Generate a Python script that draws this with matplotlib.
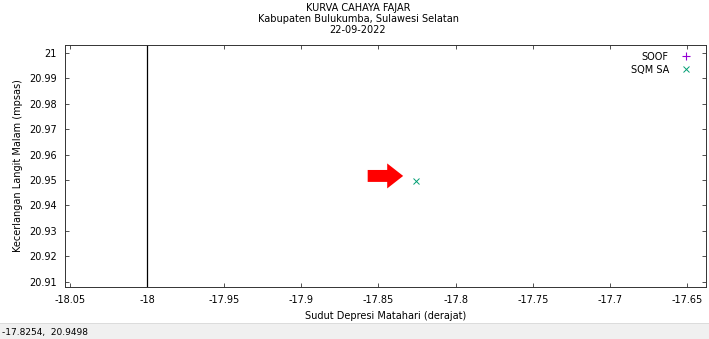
import matplotlib
matplotlib.use("Agg")
import matplotlib.pyplot as plt
import numpy as np
from matplotlib.patches import Rectangle

# Data
soof_x = []
soof_y = []
sqm_x = [-17.8254]
sqm_y = [20.9498]
astro_twilight = -18.0
x_ticks = [-18.05, -18.0, -17.95, -17.9, -17.85, -17.8, -17.75, -17.7, -17.65]
y_ticks = [20.91, 20.92, 20.93, 20.94, 20.95, 20.96, 20.97, 20.98, 20.99, 21.0]
title_lines = ["KURVA CAHAYA FAJAR", "Kabupaten Bulukumba, Sulawesi Selatan", "22-09-2022"]
status_text = "-17.8254,  20.9498"

plt.rcParams["font.family"] = ["DejaVu Sans"]
fs = 7

fig = plt.figure(figsize=(7.09, 3.39), dpi=100)
ax = fig.add_axes([65 / 709, 1 - 287 / 339, (706 - 65) / 709, (287 - 45) / 339])

ax.set_xlim(-18.0532, -17.6377)
ax.set_ylim(20.908, 21.003)

ax.axvline(astro_twilight, color="black", lw=0.9)
ax.plot(soof_x, soof_y, ls="none", marker="+", color="#9400d3", ms=6, mew=0.8, label="SOOF")
ax.plot(sqm_x, sqm_y, ls="none", marker="x", color="#009e73", ms=5, mew=0.7, label="SQM SA")

def fmt(v):
    s = f"{v:.2f}".rstrip("0").rstrip(".")
    return s

ax.set_xticks(x_ticks)
ax.set_xticklabels([fmt(v) for v in x_ticks], fontsize=fs)
ax.set_yticks(y_ticks)
ax.set_yticklabels([fmt(v) for v in y_ticks], fontsize=fs)
ax.tick_params(direction="in", top=True, right=True, length=3, width=0.6, pad=6,
               color="#333333")
for sp in ax.spines.values():
    sp.set_linewidth(0.7)
    sp.set_color("#333333")

ax.set_xlabel("Sudut Depresi Matahari (derajat)", fontsize=fs, labelpad=4)
ax.set_ylabel("Kecerlangan Langit Malam (mpsas)", fontsize=fs, labelpad=4)

leg = ax.legend(loc="upper right", bbox_to_anchor=(1 - 7 / 641, 1), markerfirst=False,
                frameon=False, fontsize=fs, handletextpad=1.2, labelspacing=0.3,
                borderaxespad=0.3, handlelength=1.2)

# red pointer towards the reading
ax.annotate("", xy=(-17.834, 20.9516), xytext=(-17.857, 20.9516),
            arrowprops=dict(arrowstyle="simple,head_length=11.5,head_width=18,tail_width=8.6",
                            mutation_scale=1, color="#ff0000", shrinkA=0, shrinkB=0, lw=0))

for i, line in enumerate(title_lines):
    fig.text(358 / 709, 1 - (8 + 11 * i) / 339, line, ha="center", va="center", fontsize=fs)

# status bar
fig.patches.append(Rectangle((0, 0), 1, 15 / 339, transform=fig.transFigure,
                             facecolor="#f0f0f0", edgecolor="none", zorder=-1))
fig.patches.append(Rectangle((0, 15 / 339), 1, 1 / 339, transform=fig.transFigure,
                             facecolor="#dcdcdc", edgecolor="none", zorder=-1))
fig.text(2 / 709, 7 / 339, status_text, ha="left", va="center", fontsize=6.5)

fig.savefig("out.png", dpi=100)
